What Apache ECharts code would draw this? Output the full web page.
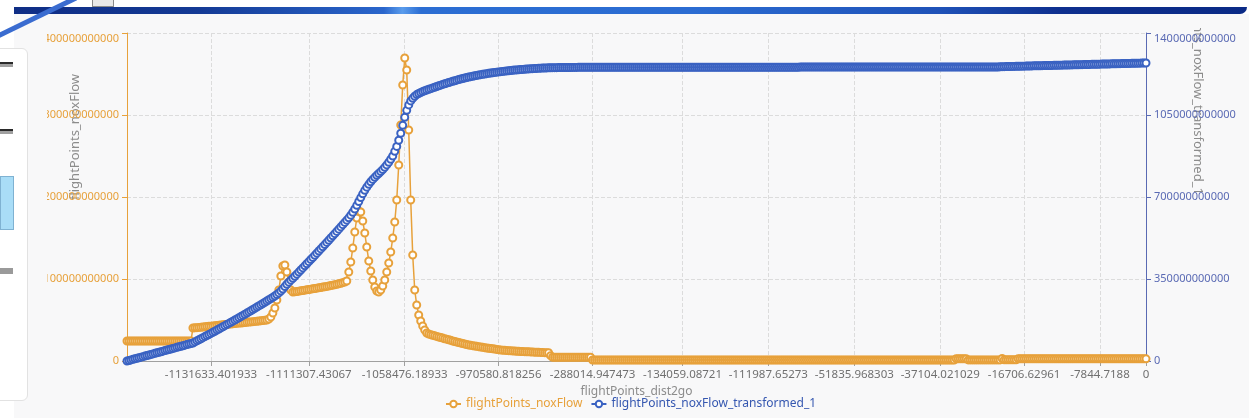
<!DOCTYPE html>
<html>
<head>
<meta charset="utf-8">
<script src="https://cdn.jsdelivr.net/npm/echarts@6/dist/echarts.min.js"></script>
<style>
  html, body { margin: 0; padding: 0; }
  body { width: 1249px; height: 418px; overflow: hidden; position: relative; background: #ffffff; font-family: 'Noto Sans', sans-serif; }
  .abs { position: absolute; }
</style>
</head>
<body>
<div class="abs" style="left:14px;top:14px;width:1235px;height:404px;background:#f8f8f9;"></div>
<div class="abs" style="left:14px;top:7px;width:1233px;height:7px;border-bottom-right-radius:7px;background:linear-gradient(90deg,#0f2d85 0%,#143a95 15%,#2a66cc 30%,#5a9cec 31.5%,#2c6ed3 33%,#2b6cd2 55%,#1f52b8 75%,#0e2f8e 85%,#0a2a86 100%);"></div>
<svg class="abs" style="left:0;top:0;" width="100" height="45"><line x1="-4" y1="37" x2="76" y2="-2" stroke="#3a6cd0" stroke-width="5"/></svg>
<div class="abs" style="left:92px;top:-3px;width:20px;height:8px;background:#e8e8e8;border:1px solid #8a8a8a;"></div>
<div class="abs" style="left:-10px;top:48px;width:36px;height:351px;background:#ffffff;border:1px solid #e2e2e2;border-radius:6px;"></div>
<div class="abs" style="left:0;top:62px;width:13px;height:2px;background:#2a2a2a;"></div>
<div class="abs" style="left:0;top:64px;width:13px;height:3px;background:#a0a0a0;"></div>
<div class="abs" style="left:0;top:129px;width:13px;height:2px;background:#2a2a2a;"></div>
<div class="abs" style="left:0;top:131px;width:13px;height:3px;background:#a0a0a0;"></div>
<div class="abs" style="left:0;top:176px;width:12px;height:52px;background:#a9ddf7;border:1px solid #7fb2d2;"></div>
<div class="abs" style="left:0;top:268px;width:13px;height:6px;background:#9a9a9a;"></div>
<div id="chart" class="abs" style="left:47px;top:28px;width:1202px;height:390px;"></div>
<script>
// x-axis tick labels (flightPoints_dist2go) and the point index each one belongs to
const xTickLabels = ['-1131633.401933','-1111307.43067','-1058476.18933','-970580.818256','-288014.947473','-134059.08721','-111987.65273','-51835.968303','-37104.021029','-16706.62961','-7844.7188','0'];
const xTickIndex = [42, 91, 139, 186, 233, 278, 321, 364, 407, 449, 487, 510];

// flightPoints_noxFlow, in units of 1e9
const noxFlowE9 = [
24.4,24.4,24.4,24.4,24.4,24.4,24.4,24.4,24.4,24.4,
24.4,24.4,24.4,24.4,24.4,24.4,24.4,24.4,24.4,24.4,
24.4,24.4,24.4,24.4,24.4,24.4,24.4,24.4,24.4,24.4,
24.4,24.4,24.4,
40.2,40.5,40.7,41.0,41.2,41.5,41.8,42.0,42.3,42.5,
42.8,43.1,43.3,43.6,43.8,44.1,44.4,44.6,44.9,45.1,
45.4,45.7,45.9,46.2,46.4,46.7,47.0,47.2,47.5,47.7,
48.0,48.3,48.5,48.8,49.0,49.3,49.6,49.9,
51.2,53.7,58.5,64.6,74.4,86.6,103.7,115.9,117.1,108.5,96.3,86.6,84.1,
84.4,84.8,85.2,85.6,86.0,86.4,86.8,87.2,87.6,88.0,
88.4,88.8,89.2,89.7,90.1,90.6,91.0,91.5,92.0,92.5,
93.0,93.6,94.2,94.8,95.5,96.3,
97.6,108.5,120.7,137.8,157.3,174.4,182.9,181.7,170.7,156.1,
139.0,122.0,109.8,98.8,90.2,85.4,84.1,86.6,91.5,98.8,
108.5,119.5,132.9,150.0,169.5,196.3,239.0,287.8,336.6,369.5,
354.9,281.7,196.3,129.3,86.6,68.3,56.1,48.8,42.7,37.8,
34.1,
32.9,32.1,31.4,30.7,30.0,29.3,28.6,27.9,27.2,26.6,
25.9,25.2,24.4,23.8,23.1,22.5,21.9,21.3,20.7,20.1,
19.5,19.1,18.7,18.3,17.9,17.5,17.1,16.7,16.3,15.9,
15.5,15.2,14.8,14.5,14.1,13.8,13.4,13.2,13.0,12.8,
12.6,12.5,12.3,12.1,11.9,11.8,11.6,11.5,11.4,11.3,
11.2,11.1,10.9,10.8,10.7,10.6,10.5,10.4,10.2,10.1,
10.0,
6.5,
4.6,4.6,4.6,4.6,4.6,4.6,4.6,4.6,4.6,4.6,
4.6,4.6,4.6,4.6,4.6,4.6,4.6,4.6,4.6,4.6,
1.2,1.2,1.2,1.2,1.2,1.2,1.2,1.2,1.2,1.2,
1.2,1.2,1.2,1.2,1.2,1.2,1.2,1.2,1.2,1.2,
1.2,1.2,1.2,1.2,1.2,1.2,1.2,1.2,1.2,1.2,
1.2,1.2,1.2,1.2,1.2,1.2,1.2,1.2,1.2,1.2,
1.2,1.2,1.2,1.2,1.2,1.2,1.2,1.2,1.2,1.2,
1.2,1.2,1.2,1.2,1.2,1.2,1.2,1.2,1.2,1.2,
1.2,1.2,1.2,1.2,1.2,1.2,1.2,1.2,1.2,1.2,
1.2,1.2,1.2,1.2,1.2,1.2,1.2,1.2,1.2,1.2,
1.2,1.2,1.2,1.2,1.2,1.2,1.2,1.2,1.2,1.2,
1.2,1.2,1.2,1.2,1.2,1.2,1.2,1.2,1.2,1.2,
1.2,1.2,1.2,1.2,1.2,1.2,1.2,1.2,1.2,1.2,
1.2,1.2,1.2,1.2,1.2,1.2,1.2,1.2,1.2,1.2,
1.2,1.2,1.2,1.2,1.2,1.2,1.2,1.2,1.2,1.2,
1.2,1.2,1.2,1.2,1.2,1.2,1.2,1.2,1.2,1.2,
1.2,1.2,1.2,1.2,1.2,1.2,1.2,1.2,1.2,1.2,
1.2,1.2,1.2,1.2,1.2,1.2,1.2,1.2,1.2,1.2,
1.2,1.2,1.2,1.2,1.2,1.2,1.2,1.2,1.2,1.2,
1.2,1.2,1.2,1.2,1.2,1.2,1.2,1.2,1.2,1.2,
1.2,1.2,
2.8,2.8,2.8,2.8,2.8,2.8,
1.3,1.3,1.3,1.3,1.3,1.3,1.3,1.3,1.3,1.3,
1.3,1.3,1.3,1.3,1.3,1.3,1.3,
3.0,
1.4,1.4,1.4,1.4,1.4,1.4,1.4,
2.6,2.6,2.6,2.6,2.6,2.6,2.6,2.6,2.6,2.6,
2.6,2.6,2.6,2.6,2.6,2.6,2.6,2.6,2.6,2.6,
2.6,2.6,2.6,2.6,2.6,2.6,2.6,2.6,2.6,2.6,
2.6,2.6,2.6,2.6,2.6,2.6,2.6,2.6,2.6,2.6,
2.6,2.6,2.6,2.6,2.6,2.6,2.6,2.6,2.6,2.6,
2.6,2.6,2.6,2.6,2.6,2.6,2.6,2.6,2.6,2.6,
2.6,2.6,2.6,2.6,2.6
];

// flightPoints_noxFlow_transformed_1, in units of 1e9
const noxFlowTransformedE9 = [
0,2.3,4.7,7.0,9.3,11.7,14.0,16.3,18.6,21.0,
23.3,25.6,28.0,30.3,32.6,35.0,37.3,39.6,41.9,44.3,
46.6,48.9,51.3,53.6,55.9,58.3,60.6,62.9,65.2,67.6,
69.9,72.2,74.6,76.9,
81.4,85.9,90.4,95.0,99.5,104.1,108.7,113.3,117.9,122.5,
127.2,131.9,136.6,141.3,146.0,150.8,155.6,160.4,165.2,170.0,
174.9,179.8,184.7,189.6,194.6,199.6,204.6,209.6,214.7,219.8,
224.9,230.0,235.1,240.3,245.5,250.7,255.9,261.2,266.5,271.8,
277.5,283.7,290.5,298.5,307.5,317.5,327.5,336.5,345.0,353.0,
361.8,370.6,379.4,388.3,397.2,406.1,415.0,424.0,433.0,442.0,
451.1,460.2,469.3,478.5,487.7,496.9,506.2,515.5,524.8,534.2,
543.6,553.1,562.6,572.2,581.8,591.5,601.2,
611.0,622.5,635.0,649.0,664.5,681.0,697.5,713.5,728.5,742.0,
754.0,765.0,775.0,784.0,792.5,800.5,808.5,817.0,826.5,837.0,
848.5,861.0,875.0,895.0,916.0,942.0,972.0,1006.0,1040.0,1070.0,
1093.0,1110.0,1121.0,1130.0,1137.0,1142.0,1146.0,1150.0,1153.5,1156.5,
1159.5,1162.5,1165.5,1168.5,1171.5,1174.5,1177.5,1180.5,1183.3,1186.0,
1188.7,1191.3,1193.8,1196.2,1198.6,1201.0,1203.3,1205.5,1207.7,1209.8,
1211.8,1213.7,1215.5,1217.2,1218.9,1220.5,1222.1,1223.6,1225.1,1226.5,
1227.9,1229.2,1230.5,1231.7,1232.9,1234.0,1235.1,1236.2,1237.2,1238.2,
1239.1,1240.0,1240.9,1241.7,1242.5,1243.3,1244.0,1244.7,1245.4,1246.0,
1246.6,1247.2,1247.8,1248.3,1248.8,1249.3,1249.8,1250.2,1250.6,1251.0,
1251.4,1251.8,
1252.0,1252.1,1252.2,1252.3,1252.4,1252.5,1252.6,1252.7,1252.8,1252.9,
1253.0,1253.1,1253.2,1253.3,1253.4,1253.5,1253.6,1253.7,1253.8,1253.9,
1254,1254,1254,1254,1254,1254,1254,1254,1254,1254,
1254,1254,1254,1254,1254,1254,1254,1254,1254,1254,
1254,1254,1254,1254,1254,1254,1254,1254,1254,1254,
1254,1254,1254,1254,1254,1254,1254,1254,1254,1254,
1254,1254,1254,1254,1254,1254,1254,1254,1254,1254,
1254,1254,1254,1254,1254,1254,1254,1254,1254,1254,
1254,1254,1254,1254,1254,1254,1254,1254,1254,1254,
1254,1254,1254,1254,1254,1254,1254,1254,1254,1254,
1254,1254,1254,1254,1254,1254,1254,1254,1254,1254,
1254,1254,1254,1254,1254,1254,1254,1254,1254,1254,
1254,1254,1254,1254,
1255,1255,1255,1255,1255,1255,1255,1255,1255,1255,
1255,1255,1255,1255,1255,1255,1255,1255,1255,1255,
1255,1255,1255,1255,1255,1255,1255,1255,1255,1255,
1255,1255,1255,1255,1255,1255,1255,1255,1255,1255,
1255,1255,1255,1255,1255,1255,1255,1255,1255,1255,
1255,1255,1255,1255,1255,1255,1255,1255,1255,1255,
1255,1255,1255,1255,1255,1255,1255,1255,1255,1255,
1255,1255,1255,1255,1255,1255,1255,1255,1255,1255,
1255,1255,1255,1255,1255,1255,1255,1255,1255,1255,
1255,1255,1255,1255,1255,1255,1255,1255,1255,1255,
1256.0,1256.2,1256.4,1256.7,1256.9,1257.1,1257.3,1257.5,1257.8,1258.0,
1258.2,1258.4,1258.6,1258.9,1259.1,1259.3,1259.5,1259.7,1260.0,1260.2,
1260.4,1260.6,1260.8,1261.1,1261.3,1261.5,1261.7,1261.9,1262.2,1262.4,
1262.6,1262.8,1263.0,1263.3,1263.5,1263.7,1263.9,1264.1,1264.4,1264.6,
1264.8,1265.0,1265.2,1265.5,1265.7,1265.9,1266.1,1266.3,1266.6,1266.8,
1267.0,1267.2,1267.4,1267.7,1267.9,1268.1,1268.3,1268.5,1268.8,1269.0,
1269.2,1269.4,1269.6,1269.9,1270.1,1270.3,1270.5,1270.7,1271.0,1271.2,
1271.4,1271.6,1271.8,1272.0
];

const UNIT = 1e9;
const pointCount = Math.max(noxFlowE9.length, noxFlowTransformedE9.length);
const categories = new Array(pointCount).fill('');
xTickIndex.forEach((idx, k) => { if (idx < pointCount) categories[idx] = xTickLabels[k]; });
const noxFlow = noxFlowE9.map(v => v * UNIT);
const noxFlowTransformed = noxFlowTransformedE9.map(v => v * UNIT);

const ORANGE = '#e7a13b';
const BLUE = '#3a62c2';
const BLUE_AXIS = '#5a6ab4';
const FONT = 'Noto Sans';
const plainNumber = v => String(v);

const chart = echarts.init(document.getElementById('chart'), null, { renderer: 'canvas' });
chart.setOption({
  animation: false,
  textStyle: { fontFamily: FONT },
  grid: { left: 80, right: 103, top: 5, bottom: 57, containLabel: false, outerBoundsMode: 'none' },
  legend: {
    left: 393, top: 365, itemWidth: 15, itemHeight: 8, itemGap: 8,
    textStyle: { fontSize: 12, fontFamily: FONT },
    data: [
      { name: 'flightPoints_noxFlow', textStyle: { color: ORANGE } },
      { name: 'flightPoints_noxFlow_transformed_1', textStyle: { color: '#3557b0' } }
    ]
  },
  xAxis: {
    type: 'category', data: categories, boundaryGap: false,
    name: 'flightPoints_dist2go', nameLocation: 'middle', nameGap: 22,
    nameTextStyle: { color: '#8c8c8c', fontSize: 12, fontFamily: FONT },
    axisLine: { lineStyle: { color: '#a0a0a0' } },
    axisTick: { show: true, lineStyle: { color: '#a0a0a0' } },
    axisLabel: { interval: (i, v) => v !== '', color: '#707070', fontSize: 11.5, fontFamily: FONT },
    splitLine: { show: true, lineStyle: { type: 'dashed', color: '#dcdcdc' } }
  },
  yAxis: [
    {
      type: 'value', position: 'left', min: 0, max: 4e11, interval: 1e11,
      axisLine: { show: true, lineStyle: { color: ORANGE } },
      axisTick: { show: true, lineStyle: { color: ORANGE } },
      axisLabel: { color: ORANGE, fontSize: 11, fontFamily: FONT, verticalAlignMaxLabel: 'top', formatter: plainNumber },
      splitLine: { show: true, lineStyle: { type: 'dashed', color: '#dcdcdc' } }
    },
    {
      type: 'value', position: 'right', min: 0, max: 1.4e12, interval: 3.5e11,
      axisLine: { show: true, lineStyle: { color: BLUE_AXIS } },
      axisTick: { show: true, lineStyle: { color: BLUE_AXIS } },
      axisLabel: { color: BLUE_AXIS, fontSize: 11, fontFamily: FONT, verticalAlignMaxLabel: 'top', formatter: plainNumber },
      splitLine: { show: false }
    }
  ],
  graphic: [
    { type: 'text', x: 28, y: 109, rotation: Math.PI / 2, silent: true,
      style: { text: 'flightPoints_noxFlow', fill: '#8c8c8c', font: '13px "Noto Sans"', align: 'center', verticalAlign: 'middle' } },
    { type: 'text', x: 1151, y: 56, rotation: -Math.PI / 2, silent: true,
      style: { text: 'flightPoints_noxFlow_transformed_1', fill: '#8c8c8c', font: '13px "Noto Sans"', align: 'center', verticalAlign: 'middle' } }
  ],
  series: [
    {
      name: 'flightPoints_noxFlow', type: 'line', yAxisIndex: 0, data: noxFlow,
      symbol: 'emptyCircle', symbolSize: 7, showSymbol: true, showAllSymbol: true,
      itemStyle: { color: ORANGE, borderWidth: 2.2 },
      lineStyle: { color: ORANGE, width: 1.5 }
    },
    {
      name: 'flightPoints_noxFlow_transformed_1', type: 'line', yAxisIndex: 1, data: noxFlowTransformed,
      symbol: 'emptyCircle', symbolSize: 7, showSymbol: true, showAllSymbol: true,
      itemStyle: { color: BLUE, borderWidth: 2.2 },
      lineStyle: { color: BLUE, width: 2 }
    }
  ]
});
</script>
</body>
</html>
